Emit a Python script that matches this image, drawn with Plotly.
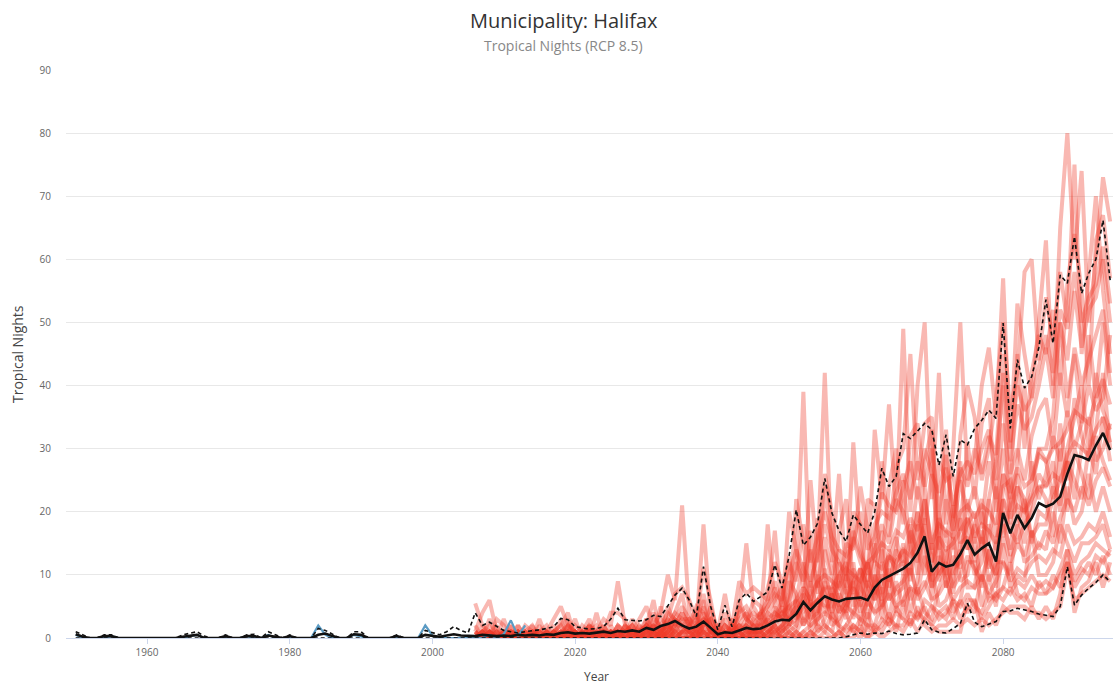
import plotly.graph_objects as go

# ---------------- data ----------------
hist_years = list(range(1950, 2006))
fut_years = list(range(2006, 2096))
obs_years = list(range(1950, 2014))

hist_p90 = [1.0, 0.5, 0, 0, 0.5, 0.5, 0,
            0, 0, 0, 0, 0, 0, 0, 0,
            0.5, 0.8, 1.0, 0.3, 0, 0, 0.5, 0, 0, 0.5, 0.6,
            0, 1.0, 0.5, 0, 0.5, 0, 0, 0, 1.5, 1.2,
            0.6, 0, 0, 1.0, 1.0, 0, 0, 0, 0, 0.5,
            0, 0, 0, 1.2, 0.8, 0.5, 1.0, 1.8, 1.2, 0.8]
hist_median = [0.6, 0.2, 0, 0, 0.3, 0.3, 0,
               0, 0, 0, 0, 0, 0, 0, 0,
               0.2, 0.4, 0.5, 0, 0, 0, 0.3, 0, 0, 0.3, 0.3,
               0, 0.4, 0.2, 0, 0.3, 0, 0, 0, 0.5, 0.7,
               0.3, 0, 0, 0.6, 0.5, 0, 0, 0, 0, 0.3,
               0, 0, 0, 0.5, 0.3, 0.2, 0.4, 0.6, 0.4, 0.3]
hist_p10 = [0, 0, 0, 0, 0, 0, 0,
            0, 0, 0, 0, 0, 0, 0, 0,
            0, 0, 0, 0, 0, 0, 0, 0, 0, 0, 0,
            0, 0, 0, 0, 0, 0, 0, 0, 0, 0,
            0, 0, 0, 0, 0, 0, 0, 0, 0, 0,
            0, 0, 0, 0, 0, 0, 0, 0, 0, 0]

observed = [0.5, 0, 0, 0, 0, 0.3, 0, 0, 0, 0,
            0, 0, 0, 0, 0, 0, 0.3, 0.5, 0, 0,
            0, 0, 0, 0, 0.3, 0, 0, 0.5, 0, 0,
            0, 0, 0, 0, 2.0, 0.5, 0, 0, 0, 0.5,
            0.3, 0, 0, 0, 0, 0, 0, 0, 0, 2.0,
            0.4, 0, 0, 0, 0, 0, 0, 0, 0.5, 0,
            0.6, 2.8, 0.3, 2.0]

fut_median = [0.3, 0.5, 0.4, 0.3, 0.4, 0.3, 0.5, 0.4, 0.5, 0.4,
              0.6, 0.5, 0.8, 0.9, 0.7, 0.8, 0.7, 0.9, 1.0, 0.8,
              1.1, 1.0, 1.2, 1.0, 1.6, 1.3, 1.9, 2.2, 2.7, 2.0,
              1.5, 1.8, 2.6, 1.6, 0.6, 0.9, 0.8, 1.2, 1.6, 1.4,
              1.5, 2.0, 2.6, 2.9, 2.8, 3.8, 5.7, 4.4, 5.6, 6.6,
              6.1, 5.8, 6.2, 6.3, 6.4, 6.0, 8.0, 9.2, 9.8, 10.5,
              11.0, 11.9, 13.5, 16.1, 10.5, 11.9, 11.3, 11.6, 13.3, 15.5,
              13.2, 14.2, 15.0, 12.1, 19.8, 16.6, 19.5, 17.4, 19.0, 21.4,
              20.8, 21.3, 22.4, 26.0, 29.0, 28.7, 28.2, 30.5, 32.5, 29.8]
fut_p90 = [4.0, 2.0, 2.5, 1.8, 1.2, 1.0, 0.8, 1.0, 1.1, 1.3,
           1.5, 1.8, 3.1, 2.9, 1.8, 1.6, 1.4, 1.5, 1.8, 3.0,
           4.7, 2.9, 2.8, 2.7, 2.9, 3.6, 3.4, 5.0, 6.8, 7.9,
           6.0, 3.4, 11.3, 5.0, 1.3, 5.2, 1.8, 6.0, 7.1, 5.8,
           6.5, 7.3, 11.6, 7.9, 13.0, 20.3, 14.7, 16.0, 18.2, 25.3,
           19.8, 17.0, 15.3, 19.5, 18.0, 16.6, 20.0, 26.9, 24.0, 25.6,
           32.4, 31.6, 32.8, 34.0, 33.0, 27.4, 32.2, 25.6, 31.4, 30.6,
           33.2, 34.5, 36.1, 34.8, 49.9, 33.2, 44.1, 39.6, 41.4, 46.0,
           53.6, 46.7, 57.5, 56.2, 63.6, 54.6, 57.8, 60.0, 66.2, 56.7]
fut_p10 = [0, 0, 0, 0, 0, 0, 0, 0, 0, 0,
           0, 0, 0, 0, 0, 0, 0, 0, 0, 0,
           0, 0, 0, 0, 0, 0, 0, 0, 0, 0,
           0, 0, 0, 0, 0, 0, 0, 0, 0, 0,
           0, 0, 0, 0, 0, 0, 0, 0, 0, 0,
           0, 0, 0.2, 0.5, 0.8, 0.6, 0.8, 0.7, 1.1, 0.7,
           0.5, 0.6, 0.8, 2.9, 1.3, 0.9, 0.8, 1.5, 2.3, 5.5,
           2.5, 1.8, 2.2, 2.6, 4.2, 4.3, 4.7, 4.5, 4.2, 3.8,
           3.6, 3.4, 5.0, 11.3, 5.2, 6.8, 7.9, 8.8, 10.0, 8.9]

member_01 = [5.5, 2, 1, 0, 1, 0, 2, 0, 1, 0,
             1, 3, 5, 2, 1, 0, 2, 1, 3, 2,
             9, 2, 1, 3, 5, 2, 4, 10, 6, 21,
             4, 2, 18, 3, 1, 7, 1, 4, 15, 5,
             3, 18, 5, 3, 6, 10, 39, 8, 14, 42,
             12, 26, 9, 31, 14, 10, 33, 22, 37, 20,
             49, 20, 40, 50, 22, 42, 18, 30, 50, 25,
             28, 40, 46, 35, 57, 30, 53, 45, 38, 50,
             63, 40, 65, 80, 60, 74, 50, 60, 73, 66]
member_02 = [1, 4, 6, 1, 0, 2, 0, 1, 0, 2,
             0, 1, 2, 4, 0, 1, 3, 0, 1, 4,
             4, 3, 0, 2, 1, 4, 1, 3, 7, 8,
             6, 3, 11, 6, 0, 4, 2, 9, 7, 8,
             7, 6, 17, 4, 20, 14, 8, 25, 12, 26,
             20, 8, 15, 14, 24, 17, 12, 28, 16, 27,
             30, 45, 25, 34, 35, 16, 33, 14, 32, 40,
             35, 25, 30, 38, 50, 36, 42, 58, 60, 44,
             54, 47, 58, 50, 75, 45, 58, 70, 55, 45]
member_03 = [0, 1, 0, 3, 2, 0, 1, 0, 0, 1,
             2, 0, 1, 1, 3, 0, 0, 4, 0, 1,
             1, 0, 3, 1, 2, 6, 0, 5, 2, 4,
             2, 5, 4, 1, 2, 1, 0, 6, 3, 2,
             2, 8, 12, 9, 3, 22, 15, 5, 19, 10,
             6, 17, 22, 8, 6, 22, 21, 12, 24, 30,
             18, 32, 34, 24, 12, 28, 25, 26, 17, 31,
             22, 34, 38, 20, 30, 22, 45, 30, 42, 48,
             45, 52, 40, 56, 64, 55, 40, 63, 67, 57]
member_04 = [2, 0, 3, 0, 0, 1, 0, 2, 1, 0,
             0, 2, 0, 3, 0, 2, 1, 0, 2, 0,
             2, 1, 2, 0, 3, 1, 3, 2, 4, 7,
             1, 1, 3, 2, 0, 0, 3, 1, 2, 6,
             5, 2, 3, 6, 13, 4, 6, 17, 7, 24,
             15, 4, 6, 20, 18, 5, 9, 17, 8, 14,
             25, 14, 12, 28, 33, 10, 12, 19, 28, 14,
             18, 15, 22, 28, 40, 18, 28, 40, 25, 30,
             30, 35, 50, 38, 45, 34, 48, 38, 50, 40]
member_05 = [0, 0, 1, 0, 3, 0, 0, 1, 2, 0,
             1, 0, 3, 0, 1, 0, 0, 1, 0, 1,
             0, 2, 1, 0, 1, 3, 2, 1, 3, 2,
             3, 0, 2, 5, 1, 2, 1, 0, 1, 1,
             1, 3, 1, 2, 4, 6, 12, 3, 10, 7,
             3, 10, 12, 5, 9, 12, 6, 9, 13, 11,
             12, 10, 20, 16, 8, 20, 8, 11, 12, 22,
             15, 20, 12, 10, 24, 25, 20, 15, 22, 26,
             24, 28, 20, 30, 35, 40, 30, 33, 42, 30]
member_06 = [1, 0, 0, 2, 0, 0, 1, 0, 0, 3,
             0, 1, 0, 0, 2, 1, 0, 0, 1, 0,
             1, 0, 0, 2, 0, 1, 5, 0, 1, 3,
             0, 2, 6, 0, 0, 1, 0, 2, 4, 0,
             0, 4, 6, 8, 2, 3, 5, 9, 4, 14,
             9, 6, 3, 12, 4, 7, 15, 5, 10, 7,
             8, 17, 14, 10, 15, 9, 14, 7, 15, 16,
             10, 12, 18, 14, 18, 14, 24, 22, 16, 18,
             18, 22, 25, 28, 22, 30, 35, 28, 30, 34]
member_07 = [0, 1, 2, 0, 0, 1, 0, 0, 1, 1,
             0, 0, 1, 2, 0, 0, 1, 2, 0, 1,
             0, 1, 2, 1, 2, 0, 1, 2, 0, 1,
             2, 4, 1, 2, 0, 0, 1, 1, 0, 2,
             2, 1, 2, 0, 9, 7, 2, 4, 6, 5,
             5, 12, 7, 3, 11, 3, 7, 14, 6, 12,
             14, 6, 9, 19, 6, 13, 10, 16, 9, 10,
             16, 8, 14, 8, 22, 17, 15, 18, 20, 24,
             22, 16, 30, 20, 30, 26, 22, 32, 28, 25]
member_08 = [0, 0, 0, 1, 1, 0, 0, 0, 2, 0,
             1, 0, 0, 1, 0, 0, 0, 1, 1, 0,
             1, 0, 1, 0, 0, 2, 0, 1, 3, 2,
             1, 0, 3, 1, 1, 1, 0, 0, 2, 1,
             1, 0, 4, 3, 1, 2, 7, 1, 3, 8,
             2, 3, 5, 7, 2, 6, 4, 8, 3, 9,
             5, 12, 6, 8, 11, 5, 6, 9, 14, 8,
             8, 16, 9, 12, 12, 10, 18, 12, 13, 15,
             14, 20, 15, 24, 18, 20, 26, 20, 24, 20]
member_09 = [0, 2, 0, 0, 0, 0, 2, 0, 0, 0,
             0, 1, 0, 0, 1, 0, 2, 0, 0, 2,
             0, 2, 0, 0, 1, 0, 2, 0, 2, 0,
             0, 1, 0, 0, 0, 0, 1, 2, 1, 0,
             4, 2, 0, 1, 2, 5, 3, 6, 1, 3,
             7, 1, 2, 4, 6, 1, 10, 3, 11, 4,
             10, 4, 8, 4, 3, 8, 11, 4, 6, 12,
             12, 5, 10, 5, 15, 8, 10, 9, 17, 10,
             10, 12, 18, 15, 12, 15, 15, 16, 18, 14]
member_10 = [0, 0, 1, 0, 0, 0, 0, 1, 0, 0,
             0, 0, 1, 0, 0, 1, 0, 0, 0, 0,
             0, 0, 1, 1, 0, 1, 0, 3, 0, 1,
             1, 0, 2, 1, 0, 0, 0, 0, 0, 1,
             0, 1, 2, 0, 1, 0, 1, 2, 5, 2,
             1, 5, 4, 1, 3, 2, 2, 6, 2, 5,
             3, 8, 3, 6, 5, 3, 4, 6, 3, 5,
             4, 10, 6, 7, 8, 12, 7, 6, 8, 7,
             7, 8, 10, 12, 8, 10, 12, 10, 13, 10]
member_11 = [1, 0, 0, 0, 0, 1, 0, 0, 0, 0,
             0, 0, 0, 1, 0, 0, 0, 0, 1, 0,
             0, 0, 0, 0, 1, 0, 1, 0, 1, 0,
             0, 1, 0, 0, 0, 1, 0, 1, 0, 0,
             1, 0, 0, 2, 0, 1, 0, 0, 2, 1,
             4, 2, 1, 2, 1, 4, 1, 2, 4, 1,
             6, 2, 5, 2, 1, 2, 2, 3, 2, 3,
             2, 3, 2, 3, 4, 5, 5, 5, 4, 4,
             3, 4, 5, 11, 6, 7, 8, 9, 10, 9]
member_12 = [0, 0, 0, 0, 1, 0, 0, 0, 0, 0,
             0, 0, 0, 0, 0, 0, 0, 0, 0, 1,
             0, 1, 0, 0, 0, 0, 0, 1, 0, 0,
             0, 0, 1, 0, 0, 0, 0, 0, 1, 0,
             0, 0, 1, 0, 0, 0, 0, 1, 0, 0,
             0, 1, 0, 0, 2, 0, 1, 0, 1, 2,
             1, 3, 1, 3, 2, 1, 1, 1, 1, 6,
             6, 1, 4, 2, 5, 4, 4, 3, 5, 3,
             5, 3, 7, 14, 4, 8, 9, 12, 8, 12]
member_13 = [0, 1, 0, 0, 1, 0, 0, 1, 0, 0,
             1, 0, 0, 1, 0, 1, 0, 0, 2, 0,
             2, 1, 0, 1, 3, 1, 2, 4, 3, 5,
             3, 1, 5, 2, 0, 2, 1, 3, 4, 2,
             4, 5, 8, 3, 7, 12, 9, 14, 8, 16,
             10, 14, 8, 16, 12, 9, 14, 18, 15, 22,
             20, 15, 24, 18, 26, 14, 22, 17, 25, 20,
             24, 18, 28, 22, 34, 26, 30, 25, 32, 36,
             38, 30, 42, 35, 46, 40, 44, 48, 52, 42]
member_14 = [1, 0, 1, 0, 0, 0, 1, 0, 1, 0,
             0, 1, 2, 0, 1, 0, 0, 1, 0, 1,
             0, 1, 1, 0, 1, 2, 1, 0, 2, 3,
             2, 3, 1, 0, 1, 0, 2, 1, 0, 3,
             2, 4, 3, 5, 2, 6, 4, 7, 9, 5,
             8, 5, 10, 7, 11, 8, 6, 12, 9, 14,
             12, 18, 10, 22, 14, 19, 16, 21, 15, 18,
             20, 14, 22, 16, 26, 20, 24, 18, 28, 22,
             26, 32, 28, 36, 30, 34, 40, 36, 38, 48]
member_15 = [0, 0, 0, 1, 0, 0, 0, 0, 1, 0,
             0, 0, 1, 0, 0, 1, 1, 0, 0, 0,
             1, 0, 0, 1, 0, 0, 1, 2, 1, 0,
             1, 2, 0, 1, 0, 1, 0, 2, 1, 1,
             1, 2, 5, 1, 3, 2, 6, 3, 4, 9,
             4, 7, 5, 9, 6, 12, 8, 6, 14, 10,
             15, 9, 18, 12, 10, 16, 8, 13, 11, 19,
             12, 17, 11, 15, 20, 13, 18, 22, 15, 20,
             19, 24, 21, 28, 25, 22, 30, 26, 35, 28]
member_16 = [0, 1, 1, 0, 0, 2, 0, 0, 0, 1,
             0, 0, 0, 2, 1, 0, 0, 0, 1, 0,
             0, 1, 2, 0, 0, 1, 0, 1, 2, 2,
             1, 0, 2, 3, 1, 0, 0, 1, 2, 0,
             3, 1, 2, 4, 5, 3, 8, 6, 2, 11,
             6, 9, 4, 11, 8, 6, 10, 7, 12, 16,
             10, 14, 20, 15, 9, 11, 17, 10, 19, 14,
             18, 22, 15, 24, 16, 21, 26, 20, 23, 30,
             28, 22, 34, 25, 38, 32, 28, 42, 36, 33]
member_17 = [0, 0, 0, 0, 0, 1, 1, 0, 0, 0,
             1, 0, 0, 0, 1, 0, 2, 0, 0, 1,
             0, 0, 1, 0, 2, 0, 0, 1, 0, 1,
             0, 1, 1, 0, 0, 0, 1, 0, 1, 2,
             0, 1, 1, 2, 3, 4, 2, 5, 6, 4,
             7, 4, 6, 8, 5, 9, 7, 10, 6, 8,
             9, 11, 7, 13, 8, 10, 12, 8, 10, 13,
             11, 9, 14, 10, 16, 12, 15, 13, 17, 14,
             17, 15, 19, 22, 20, 24, 21, 25, 27, 24]
member_18 = [0, 0, 1, 0, 1, 0, 0, 0, 0, 1,
             0, 1, 0, 0, 0, 0, 1, 0, 0, 0,
             0, 0, 0, 0, 1, 1, 0, 0, 1, 1,
             1, 0, 1, 1, 0, 0, 0, 1, 0, 0,
             1, 0, 2, 1, 2, 1, 3, 2, 3, 4,
             3, 2, 5, 4, 3, 6, 4, 5, 7, 5,
             6, 8, 7, 9, 6, 7, 9, 6, 8, 9,
             8, 10, 7, 9, 12, 9, 11, 10, 12, 13,
             12, 14, 13, 18, 15, 16, 18, 17, 20, 16]
member_19 = [0, 0, 0, 0, 0, 0, 0, 0, 0, 0,
             0, 0, 0, 0, 0, 0, 0, 0, 0, 0,
             0, 0, 0, 0, 0, 1, 0, 0, 0, 1,
             0, 0, 0, 1, 0, 0, 0, 0, 0, 0,
             0, 1, 0, 0, 1, 0, 1, 0, 1, 2,
             1, 0, 2, 1, 0, 2, 1, 3, 2, 4,
             3, 2, 4, 3, 5, 4, 3, 6, 5, 7,
             5, 4, 7, 6, 8, 7, 9, 8, 10, 8,
             9, 8, 11, 14, 10, 12, 13, 15, 14, 13]
member_20 = [0, 1, 0, 0, 0, 0, 0, 1, 0, 0,
             0, 0, 0, 0, 1, 0, 0, 0, 0, 0,
             1, 0, 0, 0, 0, 0, 1, 0, 0, 0,
             0, 0, 1, 0, 0, 0, 0, 0, 0, 1,
             0, 0, 1, 0, 0, 1, 0, 1, 0, 1,
             0, 1, 0, 2, 1, 0, 2, 1, 3, 2,
             2, 4, 3, 5, 2, 4, 5, 3, 6, 4,
             6, 3, 5, 7, 6, 8, 6, 7, 5, 9,
             7, 10, 8, 12, 9, 11, 10, 13, 12, 14]
member_21 = [0, 0, 1, 0, 0, 1, 0, 0, 0, 1,
             0, 1, 0, 1, 0, 0, 2, 0, 1, 0,
             2, 0, 1, 0, 1, 2, 1, 3, 2, 4,
             2, 1, 4, 1, 1, 3, 0, 4, 5, 3,
             4, 6, 9, 5, 10, 14, 11, 9, 13, 18,
             14, 12, 10, 17, 13, 11, 18, 20, 19, 23,
             26, 22, 28, 24, 30, 20, 27, 21, 26, 28,
             26, 30, 33, 25, 42, 28, 37, 33, 35, 40,
             46, 38, 50, 44, 55, 46, 52, 54, 60, 50]
member_22 = [0, 1, 0, 1, 0, 0, 1, 0, 0, 0,
             1, 0, 0, 2, 0, 1, 0, 0, 1, 1,
             0, 2, 0, 1, 2, 0, 1, 2, 4, 3,
             3, 2, 7, 2, 0, 2, 1, 5, 3, 4,
             3, 5, 7, 6, 12, 9, 18, 12, 16, 20,
             16, 14, 13, 15, 20, 14, 16, 23, 21, 20,
             24, 28, 22, 30, 26, 23, 29, 19, 27, 24,
             30, 26, 32, 29, 45, 31, 40, 36, 38, 43,
             48, 42, 52, 49, 58, 50, 54, 56, 62, 53]
member_23 = [0, 0, 0, 0, 1, 0, 0, 0, 1, 0,
             0, 0, 1, 0, 0, 0, 1, 0, 0, 1,
             1, 1, 0, 0, 2, 1, 0, 2, 1, 2,
             1, 2, 3, 1, 0, 1, 1, 2, 2, 1,
             2, 3, 4, 3, 5, 6, 8, 6, 9, 10,
             9, 8, 11, 10, 9, 12, 13, 15, 14, 17,
             16, 19, 17, 22, 15, 18, 17, 16, 20, 21,
             19, 21, 20, 18, 26, 23, 27, 24, 25, 29,
             28, 30, 31, 33, 36, 35, 34, 38, 41, 37]
member_24 = [1, 0, 0, 0, 0, 0, 1, 0, 0, 0,
             0, 0, 0, 0, 1, 0, 0, 1, 0, 0,
             0, 0, 1, 0, 0, 2, 0, 1, 3, 1,
             2, 1, 2, 3, 1, 0, 2, 1, 3, 2,
             1, 2, 3, 4, 3, 5, 7, 5, 6, 8,
             8, 10, 7, 9, 11, 8, 12, 11, 13, 12,
             14, 13, 15, 18, 12, 16, 14, 15, 17, 19,
             16, 18, 17, 15, 22, 19, 21, 20, 22, 24,
             24, 26, 25, 29, 31, 30, 29, 33, 35, 31]

members = [member_01, member_02, member_03, member_04, member_05,
           member_06, member_07, member_08, member_09, member_10,
           member_11, member_12, member_13, member_14, member_15,
           member_16, member_17, member_18, member_19, member_20,
           member_21, member_22, member_23, member_24]

x_ticks = [1960, 1980, 2000, 2020, 2040, 2060, 2080]
y_ticks = [0, 10, 20, 30, 40, 50, 60, 70, 80, 90]

all_years = hist_years + fut_years
median = hist_median + fut_median
p90 = hist_p90 + fut_p90
p10 = hist_p10 + fut_p10

# ---------------- figure ----------------
FONT = "Open Sans, Lato, DejaVu Sans, sans-serif"
fig = go.Figure()

for m in members:
    fig.add_trace(go.Scatter(x=fut_years, y=m, mode="lines",
                             line=dict(color="rgba(238,58,42,0.36)", width=4),
                             hoverinfo="skip", showlegend=False))

fig.add_trace(go.Scatter(x=obs_years, y=observed, mode="lines",
                         line=dict(color="#5b9bc4", width=2.2),
                         showlegend=False))

fig.add_trace(go.Scatter(x=all_years, y=p10, mode="lines",
                         line=dict(color="#111111", width=1.6, dash="4px,3px"),
                         showlegend=False))
fig.add_trace(go.Scatter(x=all_years, y=p90, mode="lines",
                         line=dict(color="#111111", width=1.6, dash="4px,3px"),
                         showlegend=False))
fig.add_trace(go.Scatter(x=all_years, y=median, mode="lines",
                         line=dict(color="#111111", width=2.6),
                         showlegend=False))

W, H = 1113, 684
L, R, T, B = 66, 0, 70, 46
ph = H - T - B
pw = W - L - R
cx = ((W / 2) - L) / pw + 0.007

fig.update_layout(
    width=W, height=H,
    margin=dict(l=L, r=R, t=T, b=B, pad=0),
    paper_bgcolor="white", plot_bgcolor="white",
    font=dict(family=FONT, color="#666666", size=10),
    showlegend=False,
    xaxis=dict(range=[1948.64, 2095.4], tickvals=x_ticks,
               ticktext=[str(v) for v in x_ticks],
               showgrid=False, zeroline=False,
               showline=True, linecolor="#ccd6eb", linewidth=1,
               ticks="outside", ticklen=5, tickcolor="#ccd6eb",
               tickfont=dict(size=10, color="#666666", family=FONT)),
    yaxis=dict(range=[0, 90], tickvals=y_ticks,
               ticktext=[str(v) for v in y_ticks],
               showgrid=True, gridcolor="#e8e8e8", gridwidth=1,
               zeroline=False, showline=False,
               ticklabelstandoff=14,
               tickfont=dict(size=10, color="#666666", family=FONT)),
)

fig.add_annotation(text="Municipality: Halifax", xref="paper", yref="paper",
                   x=cx, y=1 + (T - 20) / ph, xanchor="center", yanchor="middle",
                   showarrow=False, font=dict(size=20, color="#333333", family=FONT))
fig.add_annotation(text="Tropical Nights (RCP 8.5)", xref="paper", yref="paper",
                   x=cx, y=1 + (T - 45) / ph,
                   xanchor="center", yanchor="middle", showarrow=False,
                   font=dict(size=14, color="#888888", family=FONT))
fig.add_annotation(text="Tropical Nights", xref="paper", yref="paper",
                   x=(17 - L) / pw, y=0.5, textangle=-90,
                   xanchor="center", yanchor="middle", showarrow=False,
                   font=dict(size=14, color="#444444", family=FONT))
fig.add_annotation(text="Year", xref="paper", yref="paper",
                   x=(596 - L) / pw, y=-(676 - (H - B)) / ph,
                   xanchor="center", yanchor="middle", showarrow=False,
                   font=dict(size=12, color="#444444", family=FONT))

fig.write_html("out.html")
